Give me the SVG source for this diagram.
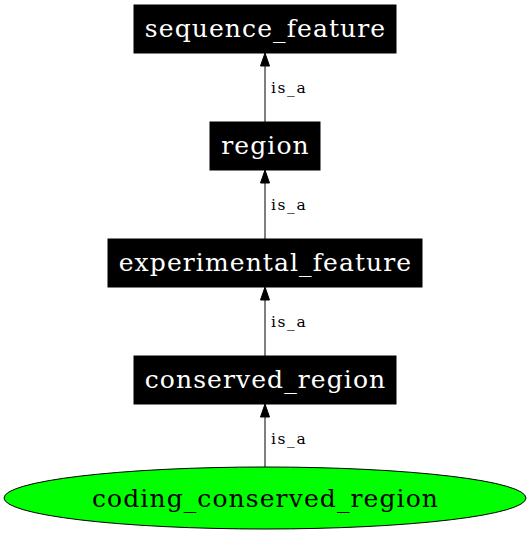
<svg xmlns="http://www.w3.org/2000/svg" width="531" height="536" viewBox="0 0 531 536">
<style>
.box{fill:#000;stroke:#000}
.nt{font-family:"DejaVu Serif",serif;font-size:25px;letter-spacing:1.1px;fill:#fff;text-anchor:middle}
.et{font-family:"DejaVu Serif",serif;font-size:15.5px;letter-spacing:1.6px;fill:#000}
.edge{stroke:#000;stroke-width:1;fill:none}
.ah{fill:#000;stroke:#000}
</style>
<rect width="531" height="536" fill="#fff"/>
<g id="edges">
<line class="edge" x1="265" y1="122" x2="265" y2="66"/>
<polygon class="ah" points="265,53 260.5,66 269.5,66"/>
<text class="et" x="271" y="93">is_a</text>
<line class="edge" x1="265" y1="239" x2="265" y2="183"/>
<polygon class="ah" points="265,170 260.5,183 269.5,183"/>
<text class="et" x="271" y="210">is_a</text>
<line class="edge" x1="265" y1="356" x2="265" y2="300"/>
<polygon class="ah" points="265,287 260.5,300 269.5,300"/>
<text class="et" x="271" y="327">is_a</text>
<line class="edge" x1="265" y1="467" x2="265" y2="417"/>
<polygon class="ah" points="265,404 260.5,417 269.5,417"/>
<text class="et" x="271" y="444">is_a</text>
</g>
<g id="sequence_feature">
<rect class="box" x="134" y="5" width="262" height="48"/>
<text class="nt" x="265.5" y="37">sequence_feature</text>
</g>
<g id="region">
<rect class="box" x="210" y="122" width="110" height="48"/>
<text class="nt" x="265.5" y="154">region</text>
</g>
<g id="experimental_feature">
<rect class="box" x="108" y="239" width="314" height="48"/>
<text class="nt" x="265.5" y="271">experimental_feature</text>
</g>
<g id="conserved_region">
<rect class="box" x="134" y="356" width="262" height="48"/>
<text class="nt" x="265.5" y="388">conserved_region</text>
</g>
<g id="coding_conserved_region">
<ellipse cx="265" cy="498" rx="261" ry="31" fill="#00ff00" stroke="#000"/>
<text class="nt" x="265.5" y="507" style="fill:#000">coding_conserved_region</text>
</g>
</svg>
